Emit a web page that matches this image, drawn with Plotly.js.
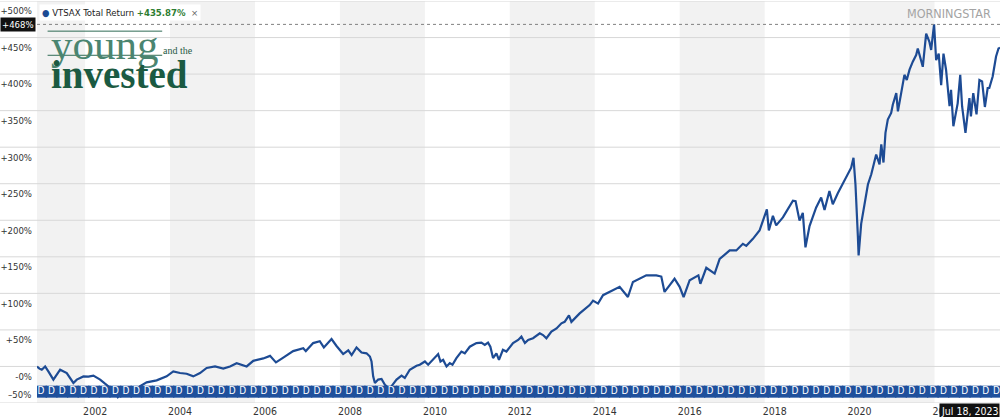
<!DOCTYPE html>
<html>
<head>
<meta charset="utf-8">
<script src="https://cdn.plot.ly/plotly-3.0.1.min.js"></script>
<style>
html,body{margin:0;padding:0;background:#fff;}
#chart{width:1000px;height:417px;}
</style>
</head>
<body>
<div id="chart"></div>
<script>
// ---- data ----
const seriesName = "VTSAX Total Return";
const finalReturnText = "+435.87%";
const peakValue = 468;
const endDateLabel = "Jul 18, 2023";

const retDates = [
"2000-11-13","2000-12-04","2000-12-24","2001-01-22","2001-02-20","2001-04-03","2001-05-31","2001-07-27",
"2001-09-22","2001-10-21","2001-12-17","2002-01-29","2002-03-13","2002-05-10","2002-06-21","2002-07-19",
"2002-07-23","2002-08-22","2002-10-09","2002-11-27","2003-03-11","2003-04-17","2003-06-14","2003-09-08",
"2003-12-03","2004-01-29","2004-03-27","2004-05-23","2004-07-19","2004-09-15","2004-11-11","2005-01-22",
"2005-04-03","2005-05-31","2005-07-27","2005-10-21","2005-12-17","2006-03-13","2006-05-10","2006-06-30",
"2006-09-01","2006-11-25","2007-02-20","2007-03-14","2007-05-16","2007-07-12","2007-08-16","2007-10-21",
"2007-12-03","2008-01-29","2008-03-13","2008-04-11","2008-05-23","2008-07-05","2008-08-17","2008-09-15",
"2008-09-29","2008-10-13","2008-10-28","2008-11-25","2008-12-24","2009-01-22","2009-02-20","2009-03-06",
"2009-03-20","2009-05-02","2009-06-14","2009-07-12","2009-08-24","2009-10-21","2009-11-18","2010-01-01",
"2010-01-29","2010-03-13","2010-04-25","2010-05-15","2010-06-07","2010-07-06","2010-08-03","2010-08-26",
"2010-09-29","2010-11-11","2010-12-10","2011-01-22","2011-03-20","2011-05-02","2011-05-31","2011-06-28",
"2011-07-18","2011-08-10","2011-09-08","2011-09-30","2011-11-03","2011-12-03","2012-01-29","2012-03-13",
"2012-04-10","2012-05-10","2012-06-07","2012-07-19","2012-09-15","2012-10-13","2012-11-11","2012-12-24",
"2013-02-06","2013-03-20","2013-04-17","2013-05-24","2013-06-14","2013-08-24","2013-11-18","2013-12-17",
"2014-01-29","2014-03-13","2014-06-07","2014-08-03","2014-10-13","2014-11-25","2015-03-20","2015-06-14",
"2015-07-27","2015-08-24","2015-10-06","2015-11-18","2016-01-01","2016-02-04","2016-03-27","2016-06-10",
"2016-06-27","2016-08-17","2016-10-28","2016-12-10","2017-03-06","2017-05-02","2017-06-28","2017-07-27",
"2017-09-22","2017-11-18","2018-01-20","2018-02-06","2018-03-13","2018-04-10","2018-06-07","2018-09-01",
"2018-09-24","2018-10-28","2018-11-25","2018-12-18","2019-01-22","2019-03-20","2019-05-02","2019-05-31",
"2019-07-12","2019-08-10","2019-09-22","2019-11-18","2020-01-15","2020-02-04","2020-02-21","2020-03-13",
"2020-03-19","2020-04-10","2020-05-10","2020-06-07","2020-07-06","2020-08-17","2020-09-15","2020-09-30",
"2020-10-19","2020-11-05","2020-11-25","2020-12-24","2021-01-07","2021-02-06","2021-02-20","2021-03-20",
"2021-04-17","2021-05-07","2021-05-31","2021-06-28","2021-07-27","2021-08-10","2021-09-08","2021-09-22",
"2021-10-21","2021-11-18","2021-12-03","2021-12-28","2022-01-15","2022-02-06","2022-02-27","2022-03-19",
"2022-04-10","2022-05-10","2022-05-23","2022-06-12","2022-07-19","2022-08-10","2022-08-26","2022-09-24",
"2022-10-28","2022-11-10","2022-11-30","2022-12-10","2022-12-28","2023-01-22","2023-02-14","2023-03-10",
"2023-04-03","2023-04-17","2023-05-16","2023-06-14","2023-07-05","2023-07-18"
];
const retValues = [
0,-3,-4.5,0,-7,-18,-4.5,-9,
-22.6,-18,-13.6,-14,-12.6,-18,-23.5,-27,
-38,-30,-42,-33,-38,-27,-21.7,-19,
-13.6,-6.8,-9,-10,-13.6,-9,-2,0,
-3,0,4.5,0,7.7,11,14.5,5.5,
12,21,25,21,32,34.5,26,37.5,
28,17,22,15.5,26,19,18,13.6,
6.8,-13.6,-22.6,-18,-17,-25,-29,-35,
-27,-18,-12.6,-15.8,-4.5,1,2.3,6.8,
2.3,9,17,6.8,9,0,4.5,2.3,
11.4,20.4,18,27,32,32.6,29.5,32.6,
27,11.4,18,9,22.7,20.4,32,36.3,
40.8,32,36.3,38.6,45.4,43,38.6,47.6,
52,59,61,70,61,72.6,84,90,
86,97.5,104,109,95,115.6,124.7,124.7,
123,102,111,120,109,95,118,124.7,
113,135,127,147,158.7,158.7,167.8,165,
174.6,186,215,186,206,193,204,226.7,
226,199.5,210,163,192,217.6,231,214,
240,222,237,254,272,285.6,249,177,
152,195,222,249,263,290,276.6,304,
279,319.6,337.8,346.8,358,374,349,376,
399,392,406,417,426,435,419,410,
455.5,444,433,468,419,428,385,428,
406,356,378.6,328.7,360,399,356,319.6,
367,342,374,365,345,392,390,355,
381,381,396.7,424,435,435.87
];

// quarterly dividend ("D") markers
const divDates = [
"2000-12-18",
"2001-03-18","2001-06-18","2001-09-18","2001-12-18",
"2002-03-18","2002-06-18","2002-09-18","2002-12-18",
"2003-03-18","2003-06-18","2003-09-18","2003-12-18",
"2004-03-18","2004-06-18","2004-09-18","2004-12-18",
"2005-03-18","2005-06-18","2005-09-18","2005-12-18",
"2006-03-18","2006-06-18","2006-09-18","2006-12-18",
"2007-03-18","2007-06-18","2007-09-18","2007-12-18",
"2008-03-18","2008-06-18","2008-09-18","2008-12-18",
"2009-03-18","2009-06-18","2009-09-18","2009-12-18",
"2010-03-18","2010-06-18","2010-09-18","2010-12-18",
"2011-03-18","2011-06-18","2011-09-18","2011-12-18",
"2012-03-18","2012-06-18","2012-09-18","2012-12-18",
"2013-03-18","2013-06-18","2013-09-18","2013-12-18",
"2014-03-18","2014-06-18","2014-09-18","2014-12-18",
"2015-03-18","2015-06-18","2015-09-18","2015-12-18",
"2016-03-18","2016-06-18","2016-09-18","2016-12-18",
"2017-03-18","2017-06-18","2017-09-18","2017-12-18",
"2018-03-18","2018-06-18","2018-09-18","2018-12-18",
"2019-03-18","2019-06-18","2019-09-18","2019-12-18",
"2020-03-18","2020-06-18","2020-09-18","2020-12-18",
"2021-03-18","2021-06-18","2021-09-18","2021-12-18",
"2022-03-18","2022-06-18","2022-09-18","2022-12-18",
"2023-03-18","2023-06-18"
];

const yTickVals = [0,50,100,150,200,250,300,350,400,450,500];
const yTickText = ["-0%","+50%","+100%","+150%","+200%","+250%","+300%","+350%","+400%","+450%","+500%"];
const yBottomVal = -50;
const yBottomText = "–50%";

const xTickVals = ["2002-01-01","2004-01-01","2006-01-01","2008-01-01","2010-01-01","2012-01-01","2014-01-01","2016-01-01","2018-01-01","2020-01-01","2022-01-01"];
const xTickText = ["2002","2004","2006","2008","2010","2012","2014","2016","2018","2020","2022"];

const shadeStarts = ["1999-01-01","2004-01-01","2008-01-01","2012-01-01","2016-01-01","2020-01-01"];
const shadeEnds   = ["2002-01-01","2006-01-01","2010-01-01","2014-01-01","2018-01-01","2022-01-01"];

// ---- styling ----
const FONT = "'Liberation Sans Narrow', 'DejaVu Sans Condensed', 'Arial Narrow', sans-serif";
const SERIF = "'Liberation Serif', 'DejaVu Serif', serif";
const LINE_BLUE = "#1d4b94";
const BAND_BLUE = "#1f509c";
const DIV_LEVEL = -34.5;

const lineTrace = {
  x: retDates, y: retValues, type: "scatter", mode: "lines",
  line: {color: LINE_BLUE, width: 2.2}, hoverinfo: "skip", showlegend: false
};
const divTrace = {
  x: divDates, y: divDates.map(() => DIV_LEVEL), type: "scatter", mode: "markers+text",
  marker: {symbol: "square", size: 12, color: BAND_BLUE, line: {width: 0}},
  text: divDates.map(() => "D"), textposition: "middle center",
  textfont: {family: FONT, size: 10, color: "#ffffff"},
  hoverinfo: "skip", showlegend: false
};

const shapes = [];
shadeStarts.forEach((s, i) => shapes.push({
  type: "rect", xref: "x", yref: "paper", x0: s, x1: shadeEnds[i], y0: 0, y1: 1,
  fillcolor: "#f2f2f2", line: {width: 0}, layer: "below"
}));
yTickVals.concat([yBottomVal]).forEach(v => shapes.push({
  type: "line", xref: "paper", yref: "y", x0: -0.0385, x1: 1, y0: v, y1: v,
  line: {color: "#d8d8d8", width: 1}, layer: "below"
}));
shapes.push({
  type: "line", xref: "paper", yref: "y", x0: 0, x1: 1, y0: peakValue, y1: peakValue,
  line: {color: "#808080", width: 1, dash: "dot"}, layer: "above"
});
// decorative rules of the "young and the invested" logo
shapes.push({type: "line", xref: "paper", yref: "paper", x0: 0.011, x1: 0.130, y0: 0.925, y1: 0.925, line: {color: "#2f6b55", width: 1}});
shapes.push({type: "line", xref: "paper", yref: "paper", x0: 0.011, x1: 0.130, y0: 0.865, y1: 0.865, line: {color: "#2f6b55", width: 1}});

const annotations = [
  {xref: "paper", yref: "paper", x: 0.002, y: 0.992, xanchor: "left", yanchor: "top", showarrow: false,
   bgcolor: "#ffffff", borderpad: 2,
   text: '<span style="color:' + LINE_BLUE + '">●</span> ' + seriesName + ' <b><span style="color:#2e7d32">' + finalReturnText + '</span></b>  <span style="color:#666">×</span>',
   font: {family: FONT, size: 9.5, color: "#222"}},
  {xref: "paper", yref: "y", x: 0, y: peakValue, xanchor: "right", yanchor: "middle", xshift: -1, showarrow: false,
   bgcolor: "#111111", borderpad: 1, text: "+" + peakValue + "%", font: {family: FONT, size: 9.5, color: "#ffffff"}},
  {xref: "paper", yref: "y", x: 0, y: yBottomVal, xanchor: "right", yanchor: "bottom", xshift: -4, yshift: 1, showarrow: false,
   text: yBottomText, font: {family: FONT, size: 9.5, color: "#333"}},
  {xref: "paper", yref: "paper", x: 0.9927, y: 0.968, xanchor: "right", yanchor: "middle", showarrow: false,
   text: "MORNINGSTAR", font: {family: FONT, size: 12.5, color: "#a3a3a3"}},
  {xref: "paper", yref: "paper", x: 0.012, y: 0.893, xanchor: "left", yanchor: "middle", showarrow: false,
   text: "young", font: {family: SERIF, size: 43, color: "#4a8570"}},
  {xref: "paper", yref: "paper", x: 0.129, y: 0.876, xanchor: "left", yanchor: "middle", showarrow: false,
   text: "and the", font: {family: SERIF, size: 10, color: "#1f5a45"}},
  {xref: "paper", yref: "paper", x: 0.012, y: 0.818, xanchor: "left", yanchor: "middle", showarrow: false,
   text: "<b>invested</b>", font: {family: SERIF, size: 39, color: "#1b5a42"}},
  {xref: "paper", yref: "paper", x: 1, y: 0, xanchor: "right", yanchor: "top", yshift: 0, showarrow: false,
   bgcolor: "#111111", borderpad: 1, text: endDateLabel, font: {family: FONT, size: 10.5, color: "#ffffff"}}
];

const layout = {
  width: 1000, height: 417,
  margin: {l: 37, r: 0, t: 1, b: 14, pad: 0},
  paper_bgcolor: "#ffffff", plot_bgcolor: "rgba(0,0,0,0)",
  showlegend: false,
  font: {family: FONT, color: "#333"},
  xaxis: {
    type: "date", range: ["2000-11-13", "2023-07-18"],
    tickmode: "array", tickvals: xTickVals, ticktext: xTickText,
    ticklabelshift: 10, ticklabelstandoff: 0,
    tickfont: {family: FONT, size: 10.5, color: "#333"},
    showgrid: false, zeroline: false, showline: false, ticks: "", fixedrange: true
  },
  yaxis: {
    range: [-50, 500], tickmode: "array", tickvals: yTickVals, ticktext: yTickText,
    ticklabelshift: 10, ticklabelstandoff: 4,
    tickfont: {family: FONT, size: 9.5, color: "#333"},
    showgrid: false, zeroline: false, showline: false, ticks: "", fixedrange: true
  },
  shapes: shapes,
  annotations: annotations
};

Plotly.newPlot("chart", [lineTrace, divTrace], layout, {displayModeBar: false, staticPlot: true});
</script>
</body>
</html>
